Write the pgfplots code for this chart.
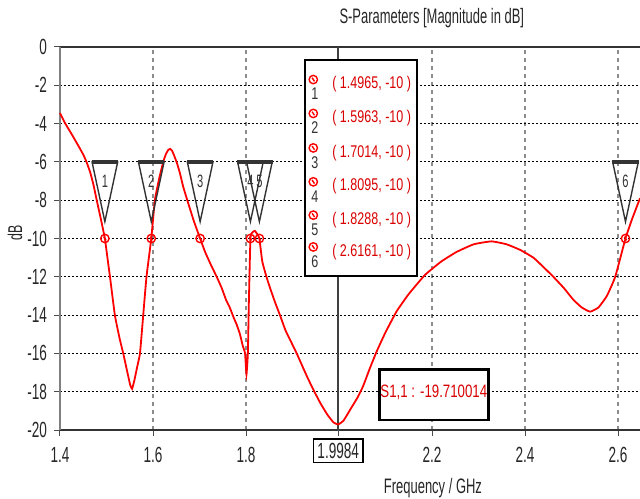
\documentclass[border=0pt]{standalone}
\usepackage{fontspec}
\setmainfont[FakeStretch=0.62]{Liberation Sans}
\newfontfamily\legfont[FakeStretch=0.74]{Liberation Sans}
\usepackage{pgfplots}
\pgfplotsset{compat=1.18}
\pgfdeclareplotmark{invtri}{%
  \pgfpathmoveto{\pgfqpoint{0pt}{0pt}}%
  \pgfpathlineto{\pgfpoint{-6.4bp}{29.8bp}}%
  \pgfpathlineto{\pgfpoint{6.4bp}{29.8bp}}%
  \pgfpathclose
  \pgfusepathqstroke
  \pgfscope\pgfsetlinewidth{1.8bp}%
  \pgfpathmoveto{\pgfpoint{-6.6bp}{29.8bp}}%
  \pgfpathlineto{\pgfpoint{6.6bp}{29.8bp}}%
  \pgfusepathqstroke
  \endpgfscope
}
\pgfdeclareplotmark{dotcirc}{%
  \pgfpathcircle{\pgfqpoint{0pt}{0pt}}{\pgfplotmarksize}%
  \pgfusepathqstroke
  \pgfpathmoveto{\pgfpoint{-0.6bp}{0.9bp}}%
  \pgfpathlineto{\pgfpoint{0.6bp}{-0.9bp}}%
  \pgfusepathqstroke
}
\pgfplotstableread{
x y
1.400 -3.45
1.411 -3.98
1.425 -4.55
1.440 -5.18
1.450 -5.62
1.457 -6.00
1.465 -6.55
1.472 -7.20
1.479 -8.00
1.488 -9.00
1.4965 -10.00
1.502 -11.0
1.5075 -12.00
1.518 -14.00
1.528 -15.20
1.536 -16.00
1.545 -17.00
1.551 -17.65
1.555 -17.85
1.560 -17.40
1.566 -16.70
1.572 -16.00
1.579 -14.00
1.586 -12.00
1.5963 -10.00
1.604 -8.00
1.613 -6.90
1.622 -6.00
1.628 -5.58
1.633 -5.37
1.637 -5.32
1.641 -5.42
1.646 -5.70
1.652 -6.10
1.658 -6.60
1.665 -7.30
1.675 -8.10
1.688 -9.10
1.7014 -10.00
1.712 -10.70
1.725 -11.40
1.737 -12.00
1.748 -12.60
1.757 -13.20
1.765 -13.60
1.773 -14.10
1.780 -14.50
1.787 -15.00
1.793 -15.60
1.798 -16.00
1.801 -17.10
1.804 -16.00
1.806 -13.50
1.8095 -10.00
1.813 -9.70
1.819 -9.60
1.825 -9.80
1.8288 -10.00
1.835 -11.20
1.844 -12.00
1.852 -12.60
1.862 -13.30
1.873 -14.00
1.885 -14.80
1.897 -15.40
1.909 -16.00
1.920 -16.60
1.933 -17.30
1.945 -17.90
1.960 -18.60
1.975 -19.20
1.988 -19.60
1.9984 -19.71
2.010 -19.50
2.025 -18.90
2.040 -18.30
2.052 -17.70
2.066 -16.80
2.081 -15.90
2.100 -14.90
2.124 -13.80
2.150 -12.90
2.185 -11.90
2.220 -11.20
2.253 -10.70
2.290 -10.30
2.328 -10.15
2.360 -10.30
2.390 -10.60
2.418 -11.00
2.440 -11.50
2.461 -12.00
2.484 -12.60
2.504 -13.20
2.522 -13.60
2.540 -13.82
2.558 -13.60
2.576 -13.00
2.594 -12.00
2.6161 -10.00
2.630 -9.00
2.6473 -7.90
}\sparam
\begin{document}
\begin{tikzpicture}
\useasboundingbox (-30bp,-34.5bp) rectangle (290bp,215bp);
\begin{axis}[
  scale only axis, width=290bp, height=191.5bp,
  xmin=1.4, xmax=2.6473, ymin=-20, ymax=0,
  axis x line*=box, axis y line*=left,
  x axis line style={-, black!80, line width=1.1bp},
  y axis line style={-, black!50, line width=0.6bp},
  xtick={1.4,1.6,1.8,2.2,2.4,2.6},
  xticklabels={1.4,1.6,1.8,2.2,2.4,2.6},
  ytick={0,-2,-4,-6,-8,-10,-12,-14,-16,-18,-20},
  yticklabels={0,-2,-4,-6,-8,-10,-12,-14,-16,-18,-20},
  xtick pos=bottom, ytick pos=left,
  tick align=outside, major tick length=3bp,
  tick style={black!70, line width=0.5bp},
  ticklabel style={font=\fontsize{11}{12}\selectfont, text=black!85},
  xticklabel style={yshift=-2bp},
  /pgf/number format/assume math mode=true,
  grid=major,
  every axis x grid/.style={black!45, line width=0.6bp, dash pattern=on 2bp off 2bp},
  every axis y grid/.style={black, line width=0.5bp, dash pattern=on 1.2bp off 0.8bp},
  extra x ticks={1.9984},
  extra x tick labels={1.9984},
  extra x tick style={
    every axis x grid/.style={black!75, solid, line width=1bp},
    xticklabel style={draw=black, line width=0.8bp, inner sep=2bp, yshift=1bp}},
  xlabel={Frequency / GHz},
  xlabel style={at={(axis description cs:0.643,-0.151)}, anchor=center, font=\fontsize{10.5}{12}\selectfont, text=black!85},
  ylabel={dB},
  ylabel style={at={(axis description cs:-0.0776,0.515)}, anchor=center, font=\fontsize{10}{12}\selectfont, text=black!85},
  clip=false,
]
\addplot[red, line width=0.9bp, smooth, tension=0.25] table[x=x, y=y] {\sparam};
\addplot[only marks, mark=invtri, mark options={black!80, line width=0.7bp}]
  coordinates {(1.4965,-9.12) (1.5963,-9.12) (1.7014,-9.12) (1.8095,-9.12) (1.8288,-9.12) (2.6161,-9.12)};
\addplot[only marks, mark=dotcirc, mark size=2.1bp, mark options={red, line width=0.7bp}]
  coordinates {(1.4965,-10) (1.5963,-10) (1.7014,-10) (1.8095,-10) (1.8288,-10) (2.6161,-10)};
\begin{scope}[font=\fontsize{9}{10}\selectfont, text=black!80]
\node at (axis cs:1.4965,-7.0) {1};
\node at (axis cs:1.5963,-7.0) {2};
\node at (axis cs:1.7014,-7.0) {3};
\node at (axis cs:1.8095,-7.0) {4};
\node at (axis cs:1.8288,-7.0) {5};
\node at (axis cs:2.6161,-7.0) {6};
\end{scope}
\node[font=\fontsize{10.5}{12}\selectfont, text=black!85] at (axis description cs:0.641,1.076) {S-Parameters [Magnitude in dB]};
% legend box of markers
\draw[line width=1.3bp, fill=white] (axis cs:1.927,-0.68) rectangle (axis cs:2.168,-11.96);
\addplot[only marks, mark=dotcirc, mark size=2.1bp, mark options={red, line width=0.7bp}]
  coordinates {(1.9447,-1.70) (1.9447,-3.47) (1.9447,-5.27) (1.9447,-7.04) (1.9447,-8.78) (1.9447,-10.44)};
\begin{scope}[font=\legfont\fontsize{8.5}{10}\selectfont]
\node[text=black!80] at (axis cs:1.948,-2.45) {1};
\node[text=black!80] at (axis cs:1.948,-4.22) {2};
\node[text=black!80] at (axis cs:1.948,-6.02) {3};
\node[text=black!80] at (axis cs:1.948,-7.79) {4};
\node[text=black!80] at (axis cs:1.948,-9.53) {5};
\node[text=black!80] at (axis cs:1.948,-11.19) {6};
\node[text=red!85!black] at (axis cs:2.0703,-1.95) {( 1.4965, -10 )};
\node[text=red!85!black] at (axis cs:2.0703,-3.72) {( 1.5963, -10 )};
\node[text=red!85!black] at (axis cs:2.0703,-5.52) {( 1.7014, -10 )};
\node[text=red!85!black] at (axis cs:2.0703,-7.29) {( 1.8095, -10 )};
\node[text=red!85!black] at (axis cs:2.0703,-9.03) {( 1.8288, -10 )};
\node[text=red!85!black] at (axis cs:2.0703,-10.69) {( 2.6161, -10 )};
\end{scope}
% value box
\draw[line width=1.3bp, fill=white] (axis cs:2.087,-16.83) rectangle (axis cs:2.3215,-19.48);
\node[text=red!85!black, font=\legfont\fontsize{9}{11}\selectfont] at (axis cs:2.204,-18.05) {S1,1 : -19.710014};
\end{axis}
\end{tikzpicture}
\end{document}
